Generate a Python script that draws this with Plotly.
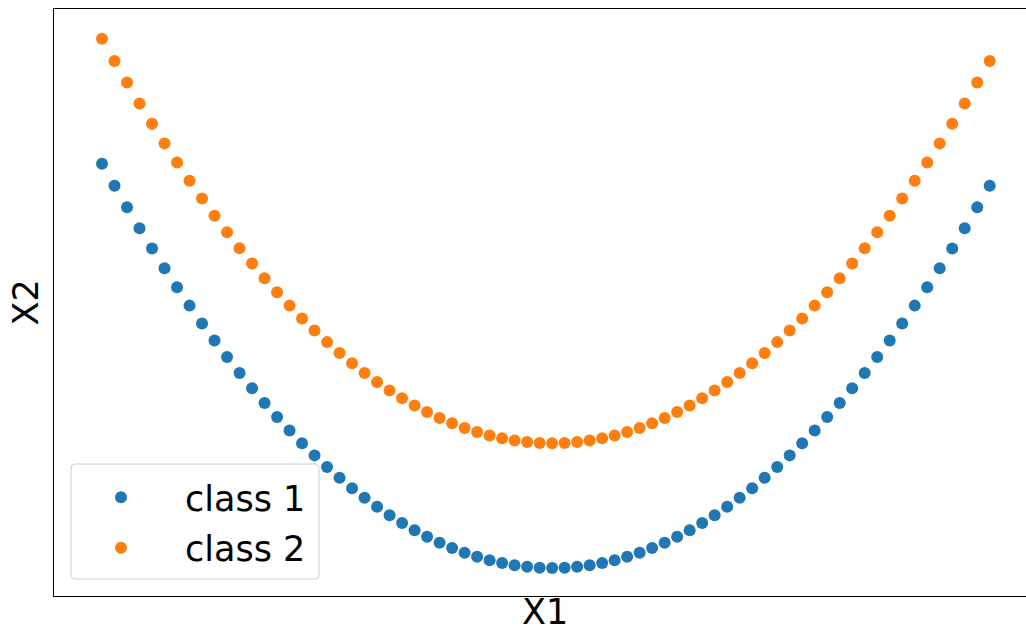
import plotly.graph_objects as go

# data
x1 = [-3.6, -3.5, -3.4, -3.3, -3.2, -3.1, -3.0, -2.9, -2.8, -2.7, -2.6, -2.5,
      -2.4, -2.3, -2.2, -2.1, -2.0, -1.9, -1.8, -1.7, -1.6, -1.5, -1.4, -1.3,
      -1.2, -1.1, -1.0, -0.9, -0.8, -0.7, -0.6, -0.5, -0.4, -0.3, -0.2, -0.1,
      0.0, 0.1, 0.2, 0.3, 0.4, 0.5, 0.6, 0.7, 0.8, 0.9, 1.0, 1.1,
      1.2, 1.3, 1.4, 1.5, 1.6, 1.7, 1.8, 1.9, 2.0, 2.1, 2.2, 2.3,
      2.4, 2.5, 2.6, 2.7, 2.8, 2.9, 3.0, 3.1, 3.2, 3.3, 3.4, 3.5]

class1_y = [12.96, 12.25, 11.56, 10.89, 10.24, 9.61, 9.0, 8.41, 7.84, 7.29, 6.76, 6.25,
            5.76, 5.29, 4.84, 4.41, 4.0, 3.61, 3.24, 2.89, 2.56, 2.25, 1.96, 1.69,
            1.44, 1.21, 1.0, 0.81, 0.64, 0.49, 0.36, 0.25, 0.16, 0.09, 0.04, 0.01,
            0.0, 0.01, 0.04, 0.09, 0.16, 0.25, 0.36, 0.49, 0.64, 0.81, 1.0, 1.21,
            1.44, 1.69, 1.96, 2.25, 2.56, 2.89, 3.24, 3.61, 4.0, 4.41, 4.84, 5.29,
            5.76, 6.25, 6.76, 7.29, 7.84, 8.41, 9.0, 9.61, 10.24, 10.89, 11.56, 12.25]

class2_y = [16.96, 16.25, 15.56, 14.89, 14.24, 13.61, 13.0, 12.41, 11.84, 11.29, 10.76, 10.25,
            9.76, 9.29, 8.84, 8.41, 8.0, 7.61, 7.24, 6.89, 6.56, 6.25, 5.96, 5.69,
            5.44, 5.21, 5.0, 4.81, 4.64, 4.49, 4.36, 4.25, 4.16, 4.09, 4.04, 4.01,
            4.0, 4.01, 4.04, 4.09, 4.16, 4.25, 4.36, 4.49, 4.64, 4.81, 5.0, 5.21,
            5.44, 5.69, 5.96, 6.25, 6.56, 6.89, 7.24, 7.61, 8.0, 8.41, 8.84, 9.29,
            9.76, 10.25, 10.76, 11.29, 11.84, 12.41, 13.0, 13.61, 14.24, 14.89, 15.56, 16.25]

series_names = ["class 1", "class 2"]
colors = ["#1f77b4", "#ff7f0e"]

FONT = "DejaVu Sans"
FS = 35
# the original axes extend a little past the right edge of the 1026 px window
W, H = 1036, 632
L, R, T, B = 54, 0, 9, 36
PW, PH = W - L - R, H - T - B


def px_x(p):
    return (p - L) / PW


def px_y(p):
    return (H - B - p) / PH


fig = go.Figure()
for name, ys, c, g in zip(series_names, [class1_y, class2_y], colors, ["a", "b"]):
    fig.add_trace(go.Scatter(
        x=x1, y=ys, mode="markers", name=name, legendgroup=g,
        marker=dict(color=c, size=12, line=dict(width=0)),
    ))

# rounded legend frame
x0, x1p, y0, y1p = px_x(71), px_x(319), px_y(579), px_y(464)
rx, ry = 4 / PW, 4 / PH
path = (f"M {x0+rx},{y0} L {x1p-rx},{y0} Q {x1p},{y0} {x1p},{y0+ry} "
        f"L {x1p},{y1p-ry} Q {x1p},{y1p} {x1p-rx},{y1p} "
        f"L {x0+rx},{y1p} Q {x0},{y1p} {x0},{y1p-ry} "
        f"L {x0},{y0+ry} Q {x0},{y0} {x0+rx},{y0} Z")
fig.add_shape(type="path", path=path, xref="paper", yref="paper",
              fillcolor="rgba(255,255,255,0.8)", line=dict(color="#cccccc", width=1),
              layer="above")

fig.add_annotation(text="X1", xref="paper", yref="paper", x=px_x(545), y=px_y(612),
                   xanchor="center", yanchor="middle", showarrow=False,
                   font=dict(family=FONT, size=FS, color="black"))
fig.add_annotation(text="X2", xref="paper", yref="paper", x=px_x(25), y=0.5,
                   xanchor="center", yanchor="middle", showarrow=False, textangle=-90,
                   font=dict(family=FONT, size=FS, color="black"))

fig.update_layout(
    width=W, height=H,
    margin=dict(l=L, r=R, t=T, b=B, pad=0),
    paper_bgcolor="white", plot_bgcolor="white",
    font=dict(family=FONT, size=FS, color="black"),
    showlegend=True,
    legend=dict(
        x=px_x(57), y=px_y(468), xanchor="left", yanchor="top",
        bgcolor="rgba(0,0,0,0)", borderwidth=0,
        itemwidth=118, font=dict(family=FONT, size=FS, color="black"),
        traceorder="grouped", tracegroupgap=2,
    ),
    xaxis=dict(range=[-3.984, -3.984 + PW / 125.03], showgrid=False, zeroline=False,
               showticklabels=False, ticks="", showline=True, linecolor="black",
               linewidth=1, mirror=True),
    yaxis=dict(range=[-0.897, 17.917], showgrid=False, zeroline=False, showticklabels=False,
               ticks="", showline=True, linecolor="black", linewidth=1, mirror=False),
)

fig.write_html(
    "out.html",
    config={"displayModeBar": False},
    post_script="document.body.style.margin='0';document.body.style.overflow='hidden';",
)
